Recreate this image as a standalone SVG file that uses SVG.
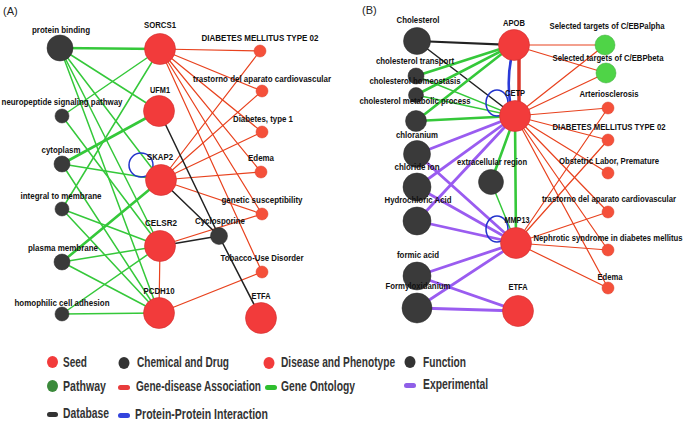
<svg xmlns="http://www.w3.org/2000/svg" width="685" height="422" viewBox="0 0 685 422">
<style>
.e line,.e path{fill:none;stroke-linecap:round}
.g{stroke:#35c83a;stroke-width:1.5}
.gt{stroke:#35c83a;stroke-width:2.6}
.r{stroke:#e8421e;stroke-width:1.2}
.rt{stroke:#d9352a;stroke-width:3.5}
.k{stroke:#222;stroke-width:1.5}
.kt{stroke:#222;stroke-width:2.2}
.p{stroke:#9a5cf0;stroke-width:2.8}
.b{stroke:#2233cc;stroke-width:1.5;fill:none}
.bt{stroke:#2a3ad8;stroke-width:2.6}
.seed{fill:#f23b3b;stroke:#d23030;stroke-width:0.6}
.dis{fill:#f5503a;stroke:#d9402c;stroke-width:0.5}
.dk{fill:#3a3a3a;stroke:#2a2a2a;stroke-width:0.5}
.pw{fill:#4fd447;stroke:#3aa838;stroke-width:0.5}
.lb{font-family:"Liberation Sans",Arial,sans-serif;font-weight:bold;font-size:9px;text-anchor:middle;fill:#111}
.hd{font-family:"Liberation Sans",Arial,sans-serif;font-size:11px;fill:#222}
.lg{font-family:"Liberation Sans",Arial,sans-serif;font-weight:bold;font-size:14px;fill:#333}
</style>
<rect width="685" height="422" fill="#fff"/>
<text class="hd" x="3" y="15">(A)</text>
<text class="hd" x="362" y="14">(B)</text>

<g id="connectors" class="e">
<line class="gt" x1="60" y1="48" x2="160" y2="49"/>
<line class="g" x1="60" y1="48" x2="159" y2="111"/>
<line class="g" x1="60" y1="48" x2="161" y2="180"/>
<line class="g" x1="60" y1="48" x2="160" y2="246"/>
<line class="g" x1="60" y1="48" x2="159" y2="313"/>
<line class="g" x1="62" y1="116" x2="160" y2="49"/>
<line class="g" x1="62" y1="116" x2="160" y2="246"/>
<line class="gt" x1="62" y1="164" x2="159" y2="111"/>
<line class="g" x1="62" y1="164" x2="161" y2="180"/>
<line class="g" x1="62" y1="164" x2="159" y2="313"/>
<line class="g" x1="62" y1="209" x2="160" y2="49"/>
<line class="g" x1="62" y1="209" x2="160" y2="246"/>
<line class="g" x1="62" y1="209" x2="159" y2="313"/>
<line class="gt" x1="62" y1="262" x2="161" y2="180"/>
<line class="g" x1="62" y1="262" x2="160" y2="246"/>
<line class="g" x1="62" y1="262" x2="159" y2="313"/>
<line class="g" x1="62" y1="314" x2="160" y2="246"/>
<line class="g" x1="62" y1="314" x2="159" y2="313"/>
<line class="r" x1="160" y1="49" x2="260" y2="51"/>
<line class="r" x1="160" y1="49" x2="262" y2="91"/>
<line class="r" x1="160" y1="49" x2="262" y2="132"/>
<line class="r" x1="160" y1="49" x2="261" y2="172"/>
<line class="r" x1="160" y1="49" x2="262" y2="214"/>
<line class="r" x1="160" y1="49" x2="262" y2="272"/>
<line class="r" x1="161" y1="180" x2="260" y2="51"/>
<line class="r" x1="161" y1="180" x2="262" y2="91"/>
<line class="r" x1="161" y1="180" x2="262" y2="132"/>
<line class="r" x1="161" y1="180" x2="261" y2="172"/>
<line class="r" x1="161" y1="180" x2="262" y2="214"/>
<line class="r" x1="160" y1="246" x2="262" y2="214"/>
<line class="r" x1="160" y1="246" x2="159" y2="313"/>
<line class="r" x1="159" y1="313" x2="262" y2="272"/>
<line class="k" x1="159" y1="111" x2="219" y2="236"/>
<line class="k" x1="161" y1="180" x2="219" y2="236"/>
<line class="k" x1="160" y1="246" x2="219" y2="236"/>
<line class="k" x1="219" y1="236" x2="261" y2="318"/>
<circle class="b" cx="141" cy="165" r="12"/>

<line class="kt" x1="417" y1="41" x2="513" y2="45"/>
<line class="k" x1="417" y1="41" x2="515" y2="116"/>
<line class="gt" x1="513" y1="45" x2="416" y2="76"/>
<line class="gt" x1="513" y1="45" x2="416" y2="95"/>
<line class="gt" x1="513" y1="45" x2="416" y2="121"/>
<line class="g" x1="515" y1="116" x2="416" y2="76"/>
<line class="g" x1="515" y1="116" x2="416" y2="95"/>
<line class="gt" x1="515" y1="116" x2="416" y2="121"/>
<line class="gt" x1="515" y1="116" x2="491" y2="182"/>
<line class="gt" x1="515" y1="116" x2="516" y2="243"/>
<line class="g" x1="491" y1="182" x2="516" y2="243"/>
<line class="p" x1="515" y1="116" x2="417" y2="154"/>
<line class="p" x1="515" y1="116" x2="417" y2="187"/>
<line class="p" x1="515" y1="116" x2="417" y2="221"/>
<line class="p" x1="516" y1="243" x2="417" y2="154"/>
<line class="p" x1="516" y1="243" x2="417" y2="187"/>
<line class="p" x1="516" y1="243" x2="417" y2="221"/>
<line class="p" x1="516" y1="243" x2="417" y2="276"/>
<line class="p" x1="516" y1="243" x2="417" y2="308"/>
<line class="p" x1="518" y1="311" x2="417" y2="276"/>
<line class="p" x1="518" y1="311" x2="417" y2="308"/>
<line class="r" x1="513" y1="45" x2="605" y2="45"/>
<line class="r" x1="513" y1="45" x2="606" y2="73"/>
<line class="r" x1="515" y1="116" x2="605" y2="45"/>
<line class="r" x1="515" y1="116" x2="606" y2="73"/>
<line class="r" x1="515" y1="116" x2="608" y2="108"/>
<line class="r" x1="515" y1="116" x2="608" y2="140"/>
<line class="r" x1="515" y1="116" x2="608" y2="173"/>
<line class="r" x1="515" y1="116" x2="608" y2="212"/>
<line class="r" x1="515" y1="116" x2="608" y2="250"/>
<line class="r" x1="515" y1="116" x2="608" y2="288"/>
<line class="r" x1="516" y1="243" x2="608" y2="108"/>
<line class="r" x1="516" y1="243" x2="608" y2="140"/>
<line class="r" x1="516" y1="243" x2="608" y2="212"/>
<line class="r" x1="516" y1="243" x2="608" y2="250"/>
<line class="r" x1="516" y1="243" x2="608" y2="288"/>
<line class="rt" x1="519" y1="58" x2="519" y2="102"/>
<path class="bt" d="M511,59 Q507,80 510,102"/>
<ellipse class="b" cx="497" cy="103" rx="11" ry="13"/>
<ellipse class="b" cx="497" cy="229" rx="11" ry="13"/>
</g>

<g id="n-protein-binding"><circle class="dk" cx="60" cy="48" r="13"/><text class="lb" transform="translate(61 33) scale(0.87 1)" textLength="66.7" lengthAdjust="spacingAndGlyphs">protein binding</text></g>
<g id="n-neuropeptide"><circle class="dk" cx="62" cy="116" r="7"/><text class="lb" transform="translate(62 105) scale(0.87 1)" textLength="139" lengthAdjust="spacingAndGlyphs">neuropeptide signaling pathway</text></g>
<g id="n-cytoplasm"><circle class="dk" cx="62" cy="164" r="8"/><text class="lb" transform="translate(61 153) scale(0.87 1)" textLength="44.8" lengthAdjust="spacingAndGlyphs">cytoplasm</text></g>
<g id="n-integral"><circle class="dk" cx="62" cy="209" r="7"/><text class="lb" transform="translate(61 199) scale(0.87 1)" textLength="93.1" lengthAdjust="spacingAndGlyphs">integral to membrane</text></g>
<g id="n-plasma"><circle class="dk" cx="62" cy="262" r="8"/><text class="lb" transform="translate(63 251) scale(0.87 1)" textLength="80.5" lengthAdjust="spacingAndGlyphs">plasma membrane</text></g>
<g id="n-homophilic"><circle class="dk" cx="62" cy="314" r="7"/><text class="lb" transform="translate(62 306) scale(0.87 1)" textLength="109.2" lengthAdjust="spacingAndGlyphs">homophilic cell adhesion</text></g>

<g id="n-sorcs1"><circle class="seed" cx="160" cy="49" r="15.5"/><text class="lb" transform="translate(160 28) scale(0.87 1)" textLength="36.8" lengthAdjust="spacingAndGlyphs">SORCS1</text></g>
<g id="n-ufm1"><circle class="seed" cx="159" cy="111" r="15.5"/><text class="lb" transform="translate(160 93) scale(0.87 1)" textLength="23" lengthAdjust="spacingAndGlyphs">UFM1</text></g>
<g id="n-skap2"><circle class="seed" cx="161" cy="180" r="15.5"/><text class="lb" transform="translate(160 160) scale(0.87 1)" textLength="29.9" lengthAdjust="spacingAndGlyphs">SKAP2</text></g>
<g id="n-celsr2"><circle class="seed" cx="160" cy="246" r="15.5"/><text class="lb" transform="translate(161 226) scale(0.87 1)" textLength="36.8" lengthAdjust="spacingAndGlyphs">CELSR2</text></g>
<g id="n-pcdh10"><circle class="seed" cx="159" cy="313" r="15.5"/><text class="lb" transform="translate(159 294) scale(0.87 1)" textLength="35.6" lengthAdjust="spacingAndGlyphs">PCDH10</text></g>

<g id="n-a-dm02"><circle class="dis" cx="260" cy="51" r="6"/><text class="lb" transform="translate(260 41) scale(0.87 1)" textLength="134.5" lengthAdjust="spacingAndGlyphs">DIABETES MELLITUS TYPE 02</text></g>
<g id="n-a-trastorno"><circle class="dis" cx="262" cy="91" r="6"/><text class="lb" transform="translate(262 82) scale(0.87 1)" textLength="158.6" lengthAdjust="spacingAndGlyphs">trastorno del aparato cardiovascular</text></g>
<g id="n-a-diab1"><circle class="dis" cx="262" cy="132" r="6"/><text class="lb" transform="translate(263 122) scale(0.87 1)" textLength="69" lengthAdjust="spacingAndGlyphs">Diabetes, type 1</text></g>
<g id="n-a-edema"><circle class="dis" cx="261" cy="172" r="6"/><text class="lb" transform="translate(261 161) scale(0.87 1)" textLength="29.9" lengthAdjust="spacingAndGlyphs">Edema</text></g>
<g id="n-a-genetic"><circle class="dis" cx="262" cy="214" r="6"/><text class="lb" transform="translate(262 203) scale(0.87 1)" textLength="93.1" lengthAdjust="spacingAndGlyphs">genetic susceptibility</text></g>
<g id="n-a-tobacco"><circle class="dis" cx="262" cy="272" r="6"/><text class="lb" transform="translate(262 261) scale(0.87 1)" textLength="95.4" lengthAdjust="spacingAndGlyphs">Tobacco-Use Disorder</text></g>
<g id="n-cyclosporine"><circle class="dk" cx="219" cy="236" r="8.5"/><text class="lb" transform="translate(220 224) scale(0.87 1)" textLength="57.5" lengthAdjust="spacingAndGlyphs">Cyclosporine</text></g>
<g id="n-a-etfa"><circle class="seed" cx="261" cy="318" r="15.5"/><text class="lb" transform="translate(261 299) scale(0.87 1)" textLength="21.8" lengthAdjust="spacingAndGlyphs">ETFA</text></g>

<g id="n-cholesterol"><circle class="dk" cx="417" cy="41" r="13.5"/><text class="lb" transform="translate(418 23) scale(0.87 1)" textLength="49.4" lengthAdjust="spacingAndGlyphs">Cholesterol</text></g>
<g id="n-chol-transport"><circle class="dk" cx="416" cy="76" r="8"/><text class="lb" transform="translate(415 64) scale(0.87 1)" textLength="89.7" lengthAdjust="spacingAndGlyphs">cholesterol transport</text></g>
<g id="n-chol-homeo"><circle class="dk" cx="416" cy="95" r="7.5"/><text class="lb" transform="translate(415 84) scale(0.87 1)" textLength="104.6" lengthAdjust="spacingAndGlyphs">cholesterol homeostasis</text></g>
<g id="n-chol-metab"><circle class="dk" cx="416" cy="121" r="10.5"/><text class="lb" transform="translate(415 104) scale(0.87 1)" textLength="127.6" lengthAdjust="spacingAndGlyphs">cholesterol metabolic process</text></g>
<g id="n-chloranium"><circle class="dk" cx="417" cy="154" r="13.5"/><text class="lb" transform="translate(417 138) scale(0.87 1)" textLength="48.3" lengthAdjust="spacingAndGlyphs">chloranium</text></g>
<g id="n-chloride"><circle class="dk" cx="417" cy="187" r="14"/><text class="lb" transform="translate(417 170) scale(0.87 1)" textLength="51.7" lengthAdjust="spacingAndGlyphs">chloride ion</text></g>
<g id="n-hcl"><circle class="dk" cx="417" cy="221" r="14"/><text class="lb" transform="translate(418 203) scale(0.87 1)" textLength="77" lengthAdjust="spacingAndGlyphs">Hydrochloric Acid</text></g>
<g id="n-formic"><circle class="dk" cx="417" cy="276" r="14"/><text class="lb" transform="translate(418 258) scale(0.87 1)" textLength="48.3" lengthAdjust="spacingAndGlyphs">formic acid</text></g>
<g id="n-formyl"><circle class="dk" cx="417" cy="308" r="15"/><text class="lb" transform="translate(418 289) scale(0.87 1)" textLength="74.7" lengthAdjust="spacingAndGlyphs">Formyloxidanium</text></g>
<g id="n-extracellular"><circle class="dk" cx="491" cy="182" r="12.5"/><text class="lb" transform="translate(492 165) scale(0.87 1)" textLength="80.5" lengthAdjust="spacingAndGlyphs">extracellular region</text></g>

<g id="n-apob"><circle class="seed" cx="514" cy="45" r="15.5"/><text class="lb" transform="translate(514 26) scale(0.87 1)" textLength="25.3" lengthAdjust="spacingAndGlyphs">APOB</text></g>
<g id="n-cetp"><circle class="seed" cx="515" cy="116" r="15.5"/><text class="lb" transform="translate(515 96) scale(0.87 1)" textLength="23" lengthAdjust="spacingAndGlyphs">CETP</text></g>
<g id="n-mmp13"><circle class="seed" cx="516" cy="243" r="15.5"/><text class="lb" transform="translate(517 223) scale(0.87 1)" textLength="28.7" lengthAdjust="spacingAndGlyphs">MMP13</text></g>
<g id="n-b-etfa"><circle class="seed" cx="518" cy="311" r="15.5"/><text class="lb" transform="translate(518 290) scale(0.87 1)" textLength="21.8" lengthAdjust="spacingAndGlyphs">ETFA</text></g>

<g id="n-cebpa"><circle class="pw" cx="605" cy="45" r="10"/><text class="lb" transform="translate(607 29) scale(0.87 1)" textLength="132.2" lengthAdjust="spacingAndGlyphs">Selected targets of C/EBPalpha</text></g>
<g id="n-cebpb"><circle class="pw" cx="606" cy="73" r="10"/><text class="lb" transform="translate(608 61) scale(0.87 1)" textLength="127.6" lengthAdjust="spacingAndGlyphs">Selected targets of C/EBPbeta</text></g>
<g id="n-arterio"><circle class="dis" cx="608" cy="108" r="6"/><text class="lb" transform="translate(609 97) scale(0.87 1)" textLength="67.8" lengthAdjust="spacingAndGlyphs">Arteriosclerosis</text></g>
<g id="n-b-dm02"><circle class="dis" cx="608" cy="140" r="6"/><text class="lb" transform="translate(609 130) scale(0.87 1)" textLength="129.9" lengthAdjust="spacingAndGlyphs">DIABETES MELLITUS TYPE 02</text></g>
<g id="n-obstetric"><circle class="dis" cx="608" cy="173" r="6"/><text class="lb" transform="translate(609 164) scale(0.87 1)" textLength="114.9" lengthAdjust="spacingAndGlyphs">Obstetric Labor, Premature</text></g>
<g id="n-b-trastorno"><circle class="dis" cx="608" cy="212" r="6"/><text class="lb" transform="translate(609 202) scale(0.87 1)" textLength="154" lengthAdjust="spacingAndGlyphs">trastorno del aparato cardiovascular</text></g>
<g id="n-nephrotic"><circle class="dis" cx="608" cy="250" r="6"/><text class="lb" transform="translate(608 241) scale(0.87 1)" textLength="171.3" lengthAdjust="spacingAndGlyphs">Nephrotic syndrome in diabetes mellitus</text></g>
<g id="n-b-edema"><circle class="dis" cx="608" cy="288" r="6"/><text class="lb" transform="translate(610 280) scale(0.87 1)" textLength="28.7" lengthAdjust="spacingAndGlyphs">Edema</text></g>

<g id="legend">
<ellipse cx="52.5" cy="362" rx="5.5" ry="6" fill="#f23b3b"/>
<text class="lg" transform="translate(63 367) scale(0.7 1)" textLength="34.3" lengthAdjust="spacingAndGlyphs">Seed</text>
<ellipse cx="124" cy="363" rx="5.5" ry="6" fill="#333"/>
<text class="lg" transform="translate(137 367) scale(0.7 1)" textLength="131.4" lengthAdjust="spacingAndGlyphs">Chemical and Drug</text>
<ellipse cx="269" cy="363" rx="5.5" ry="6" fill="#f23b3b"/>
<text class="lg" transform="translate(281 367) scale(0.7 1)" textLength="162.9" lengthAdjust="spacingAndGlyphs">Disease and Phenotype</text>
<ellipse cx="410" cy="362" rx="5.5" ry="6" fill="#333"/>
<text class="lg" transform="translate(423 367) scale(0.7 1)" textLength="61.4" lengthAdjust="spacingAndGlyphs">Function</text>
<ellipse cx="52.5" cy="386" rx="5.5" ry="6" fill="#3b8a3b"/>
<text class="lg" transform="translate(63 391) scale(0.7 1)" textLength="61.4" lengthAdjust="spacingAndGlyphs">Pathway</text>
<rect x="118" y="385" width="12" height="5" rx="2.5" fill="#e83c3c"/>
<text class="lg" transform="translate(136 391) scale(0.7 1)" textLength="178.6" lengthAdjust="spacingAndGlyphs">Gene-disease Association</text>
<rect x="265" y="385" width="12" height="5" rx="2.5" fill="#2fbf2f"/>
<text class="lg" transform="translate(281 391) scale(0.7 1)" textLength="105.7" lengthAdjust="spacingAndGlyphs">Gene Ontology</text>
<rect x="404" y="383" width="12" height="5" rx="2.5" fill="#8f5fe8"/>
<text class="lg" transform="translate(423 389) scale(0.7 1)" textLength="92.9" lengthAdjust="spacingAndGlyphs">Experimental</text>
<rect x="47" y="412" width="11" height="5" rx="2.5" fill="#333"/>
<text class="lg" transform="translate(63 418) scale(0.7 1)" textLength="65.7" lengthAdjust="spacingAndGlyphs">Database</text>
<rect x="118" y="413" width="12" height="5" rx="2.5" fill="#3344dd"/>
<text class="lg" transform="translate(135 419) scale(0.7 1)" textLength="190" lengthAdjust="spacingAndGlyphs">Protein-Protein Interaction</text>
</g>
</svg>
